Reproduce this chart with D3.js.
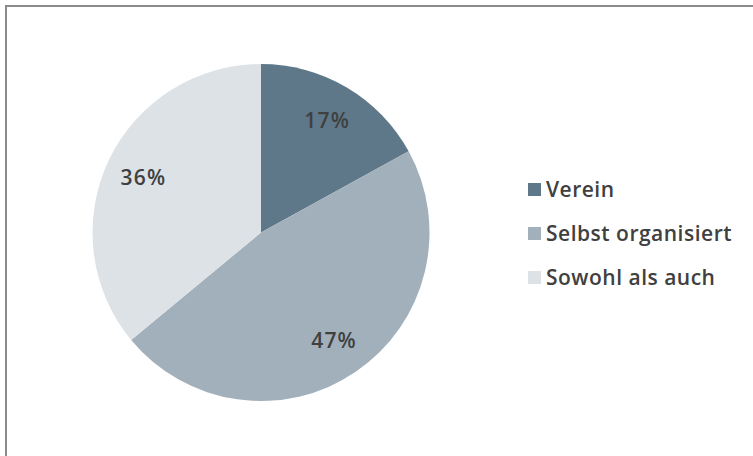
<!DOCTYPE html>
<html>
<head>
<meta charset="utf-8">
<script src="https://cdn.jsdelivr.net/npm/d3@7"></script>
<style>
  body { margin: 0; background: #fff; }
  svg { display: block; }
  text { font-family: "Open Sans", "Liberation Sans", sans-serif; fill: #404040; }
</style>
</head>
<body>
<svg></svg>
<script>
let categories = ['Verein', 'Selbst organisiert', 'Sowohl als auch'];
let values = [17, 47, 36];
let colors = ['#5f7889', '#a2b0bb', '#dde2e7'];

let width = 753;
let height = 456;
let cx = 261;
let cy = 232.5;
let radius = 168.5;
let labelRadius = 130;

let svg = d3.select('svg')
            .attr('width', width)
            .attr('height', height);

// frame
svg.append('rect')
   .attr('x', 6)
   .attr('y', 6)
   .attr('width', width + 20)
   .attr('height', height + 20)
   .attr('fill', 'none')
   .attr('stroke', '#8a8a8a')
   .attr('stroke-width', 2);

let color = d3.scaleOrdinal()
              .domain(categories)
              .range(colors);

let pie = d3.pie()
            .sort(null)
            .value((d, i) => values[i]);

let arcs = pie(categories);

let arc = d3.arc()
            .innerRadius(0)
            .outerRadius(radius);

let labelArc = d3.arc()
                 .innerRadius(labelRadius)
                 .outerRadius(labelRadius);

let g = svg.append('g')
           .attr('transform', 'translate(' + cx + ',' + cy + ')');

g.selectAll('path')
 .data(arcs)
 .enter()
 .append('path')
 .attr('d', arc)
 .attr('fill', (d) => color(d.data));

g.selectAll('text.pct')
 .data(arcs)
 .enter()
 .append('text')
 .attr('class', 'pct')
 .attr('transform', (d) => 'translate(' + labelArc.centroid(d) + ')')
 .attr('text-anchor', 'middle')
 .attr('dy', '0.36em')
 .style('font-size', '21px')
 .style('font-weight', 600)
 .style('letter-spacing', '1.2px')
 .text((d) => d.value + '%');

// legend
let legend = svg.append('g')
                .attr('transform', 'translate(528, 183)');

let item = legend.selectAll('g')
                 .data(categories)
                 .enter()
                 .append('g')
                 .attr('transform', (d, i) => 'translate(0,' + (i * 44) + ')');

item.append('rect')
    .attr('width', 13)
    .attr('height', 13)
    .attr('fill', (d) => color(d));

item.append('text')
    .attr('x', 18)
    .attr('y', 14)
    .style('font-size', '21px')
    .style('font-weight', 600)
    .style('letter-spacing', '0.5px')
    .text((d) => d);
</script>
</body>
</html>
